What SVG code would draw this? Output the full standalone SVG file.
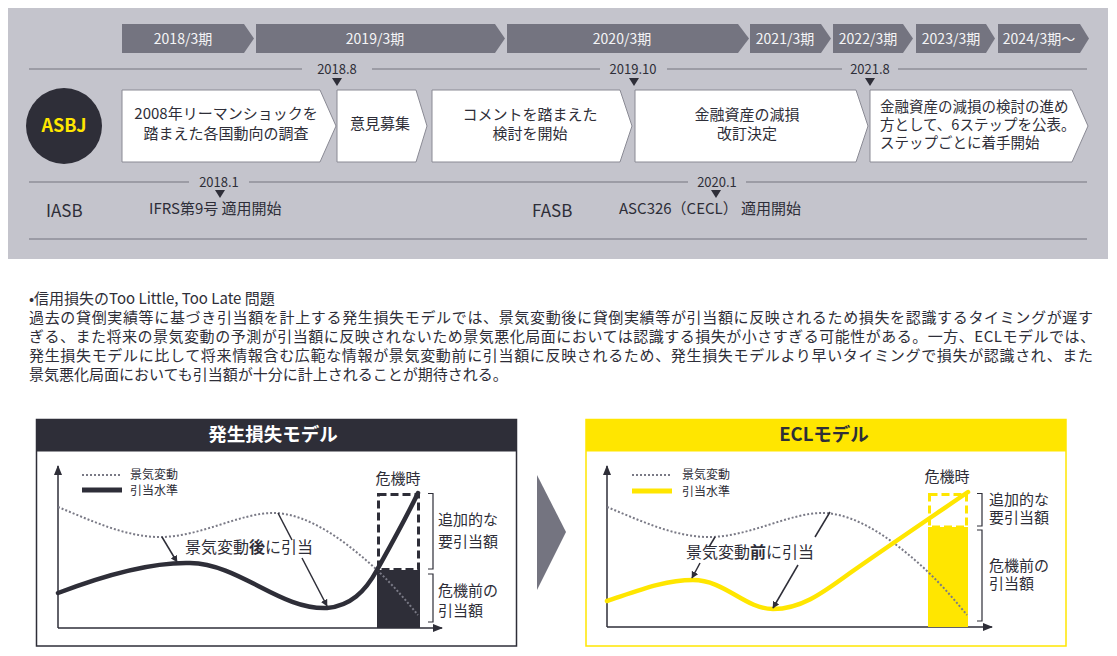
<svg xmlns="http://www.w3.org/2000/svg" width="1117" height="656" viewBox="0 0 1117 656">
<defs>
<style>
text{font-family:"Noto Sans CJK JP","Noto Sans",sans-serif;fill:#2e2e38}
.chev{fill:#747480}
.chevt{fill:#f4f4f6;font-size:14px;text-anchor:middle}
.tl{stroke:#8e8e98;stroke-width:1.5;fill:none}
.date{font-size:13px;text-anchor:middle}
.box{fill:#fff;stroke:#8a8a94;stroke-width:1}
.bt{font-size:15px;text-anchor:middle}
.bl{font-size:14.5px}
.org{font-size:17px}
.para{font-size:15px}
.axis{stroke:#2e2e38;stroke-width:1.5;fill:none}
.dot{stroke:#7a7a86;stroke-width:2;stroke-dasharray:2 2;fill:none}
.ann{stroke:#2e2e38;stroke-width:1.5;fill:none}
.lg{font-size:12px}
.lab{font-size:15px}
.brk{stroke:#2e2e38;stroke-width:1.2;fill:none}
</style>
<marker id="ah" viewBox="0 0 10 10" refX="9" refY="5" markerWidth="7" markerHeight="7" orient="auto" markerUnits="userSpaceOnUse">
<path d="M0,0 L10,5 L0,10 z" fill="#2e2e38"/>
</marker>
<marker id="axh" viewBox="0 0 10 10" refX="9" refY="5" markerWidth="10" markerHeight="10" orient="auto" markerUnits="userSpaceOnUse">
<path d="M0,1 L10,5 L0,9 z" fill="#2e2e38"/>
</marker>
<path id="dotcurve" d="M58,507 C90,520 125,537 160,537 C200,537 240,513 273,513 C310,513 350,545 377,570 C395,587 408,603 418,615"/>
</defs>

<g id="timeline-panel">
<rect x="8" y="8" width="1100" height="251" fill="#c4c4cc"/>
</g>

<g id="periods">
<polygon class="chev" points="122,24 244,24 254,38.5 244,53 122,53"/>
<text class="chevt" x="183" y="43.5">2018/3期</text>
<polygon class="chev" points="256,24 495,24 505,38.5 495,53 256,53"/>
<text class="chevt" x="375" y="43.5">2019/3期</text>
<polygon class="chev" points="507,24 738,24 749,38.5 738,53 507,53"/>
<text class="chevt" x="622" y="43.5">2020/3期</text>
<polygon class="chev" points="750,24 821,24 831,38.5 821,53 750,53"/>
<text class="chevt" x="785" y="43.5">2021/3期</text>
<polygon class="chev" points="833,24 903,24 913,38.5 903,53 833,53"/>
<text class="chevt" x="868" y="43.5">2022/3期</text>
<polygon class="chev" points="916,24 986,24 995,38.5 986,53 916,53"/>
<text class="chevt" x="951" y="43.5">2023/3期</text>
<polygon class="chev" points="998,24 1080,24 1089,38.5 1080,53 998,53"/>
<text class="chevt" x="1039" y="43.5">2024/3期～</text>
</g>

<g id="timeline-lines">
<path class="tl" d="M29,69 H302 M372,69 H600 M667,69 H842 M898,69 H1087"/>
<path class="tl" d="M29,182 H189 M249,182 H688 M746,182 H1087"/>
<path class="tl" d="M29,239 H1087"/>
</g>

<g id="dates">
<text class="date" x="337" y="73.5">2018.8</text>
<polygon points="332,78 342,78 337,86" fill="#2e2e38"/>
<text class="date" x="633" y="73.5">2019.10</text>
<polygon points="629,78 639,78 634,86" fill="#2e2e38"/>
<text class="date" x="870" y="73.5">2021.8</text>
<polygon points="865,78 875,78 870,86" fill="#2e2e38"/>
<text class="date" x="219" y="186.5">2018.1</text>
<polygon points="215,190 225,190 220,198" fill="#2e2e38"/>
<text class="date" x="717" y="186.5">2020.1</text>
<polygon points="711,190 721,190 716,198" fill="#2e2e38"/>
</g>

<g id="asbj">
<circle cx="64" cy="126" r="38" fill="#2e2e38"/>
<text x="64" y="132" font-size="18" font-weight="bold" text-anchor="middle" style="fill:#ffe600">ASBJ</text>
</g>

<g id="step1">
<polygon class="box" points="122,90 320,90 336,126 320,162 122,162"/>
<text class="bt"><tspan x="226" y="119">2008年リーマンショックを</tspan><tspan x="226" y="139">踏まえた各国動向の調査</tspan></text>
</g>
<g id="step2">
<polygon class="box" points="337,90 416,90 427,126 416,162 337,162"/>
<text class="bt" x="380" y="129">意見募集</text>
</g>
<g id="step3">
<polygon class="box" points="432,90 620,90 632,126 620,162 432,162"/>
<text class="bt"><tspan x="530" y="120">コメントを踏まえた</tspan><tspan x="530" y="138.5">検討を開始</tspan></text>
</g>
<g id="step4">
<polygon class="box" points="635,90 856,90 868,126 856,162 635,162"/>
<text class="bt"><tspan x="747" y="120">金融資産の減損</tspan><tspan x="747" y="138.5">改訂決定</tspan></text>
</g>
<g id="step5">
<polygon class="box" points="870,90 1072,90 1088,126 1072,162 870,162"/>
<text class="bl"><tspan x="880" y="112">金融資産の減損の検討の進め</tspan><tspan x="880" y="130">方として、6ステップを公表。</tspan><tspan x="880" y="148">ステップごとに着手開始</tspan></text>
</g>

<g id="iasb">
<text class="org" x="46" y="217">IASB</text>
<text class="lab" x="149" y="214" font-size="14.5">IFRS第9号 適用開始</text>
</g>
<g id="fasb">
<text class="org" x="532" y="217">FASB</text>
<text class="lab" x="619" y="214" font-size="14.5">ASC326（CECL） 適用開始</text>
</g>

<g id="paragraph">
<text class="para" x="29" y="304">•信用損失のToo Little, Too Late 問題</text>
<text class="para" x="29" y="323" textLength="1064" lengthAdjust="spacing">過去の貸倒実績等に基づき引当額を計上する発生損失モデルでは、景気変動後に貸倒実績等が引当額に反映されるため損失を認識するタイミングが遅す</text>
<text class="para" x="29" y="342" textLength="1066" lengthAdjust="spacing">ぎる、また将来の景気変動の予測が引当額に反映されないため景気悪化局面においては認識する損失が小さすぎる可能性がある。一方、ECLモデルでは、</text>
<text class="para" x="29" y="361" textLength="1064" lengthAdjust="spacing">発生損失モデルに比して将来情報含む広範な情報が景気変動前に引当額に反映されるため、発生損失モデルより早いタイミングで損失が認識され、また</text>
<text class="para" x="29" y="380">景気悪化局面においても引当額が十分に計上されることが期待される。</text>
</g>

<g id="incurred-loss-model">
<rect x="36.5" y="419.5" width="480" height="226.5" fill="#fff" stroke="#2e2e38" stroke-width="1.5"/>
<rect x="36.5" y="419.5" width="480" height="32" fill="#2e2e38"/>
<text x="273" y="441" font-size="18.5" font-weight="bold" text-anchor="middle" style="fill:#fff">発生損失モデル</text>
<path class="axis" d="M58,628 V466" marker-end="url(#axh)"/>
<path class="axis" d="M58,628 H442" marker-end="url(#axh)"/>
<path class="dot" d="M82,475 H122"/>
<path d="M82,490 H122" stroke="#2e2e38" stroke-width="5"/>
<text class="lg"><tspan x="130" y="479">景気変動</tspan><tspan x="130" y="495">引当水準</tspan></text>
<rect x="377" y="570" width="43" height="58" fill="#2e2e38"/>
<rect x="378.5" y="494.5" width="40" height="75" fill="none" stroke="#2e2e38" stroke-width="3" stroke-dasharray="8 4"/>
<use href="#dotcurve" class="dot"/>
<path d="M58,593 C105,575 150,562 190,563 C240,564 280,610 327,608 C350,606 365,592 377,570 C392,543 405,520 418,493" stroke="#2e2e38" stroke-width="4.5" fill="none" stroke-linecap="round"/>
<text class="lab" x="398" y="484" text-anchor="middle">危機時</text>
<path class="brk" d="M428,493.5 H433 V569 H428 M428,574 H433 V622 H428"/>
<text class="lab"><tspan x="438" y="525">追加的な</tspan><tspan x="438" y="547">要引当額</tspan></text>
<text class="lab"><tspan x="438" y="596">危機前の</tspan><tspan x="438" y="616">引当額</tspan></text>
<text x="185" y="553" font-size="16">景気変動<tspan font-weight="bold">後</tspan>に引当</text>
</g>

<g id="transition-arrow">
<polygon points="537,475 566,532 537,590" fill="#747480"/>
</g>

<g id="ecl-model">
<rect x="586" y="419.5" width="480" height="226.5" fill="#fff" stroke="#ffe600" stroke-width="1.5"/>
<rect x="586" y="419.5" width="480" height="32" fill="#ffe600"/>
<text x="824" y="441" font-size="18.5" font-weight="bold" text-anchor="middle">ECLモデル</text>
<path class="axis" d="M607,627 V466" marker-end="url(#axh)"/>
<path class="axis" d="M607,627 H992" marker-end="url(#axh)"/>
<path class="dot" d="M632,475 H672"/>
<path d="M632,491 H672" stroke="#ffe600" stroke-width="5"/>
<text class="lg"><tspan x="682" y="479">景気変動</tspan><tspan x="682" y="496">引当水準</tspan></text>
<rect x="928" y="527" width="40" height="100" fill="#ffe600"/>
<rect x="929.5" y="494.5" width="37" height="32.5" fill="none" stroke="#ffe600" stroke-width="3" stroke-dasharray="8 4"/>
<use href="#dotcurve" class="dot" transform="translate(549,0)"/>
<path d="M607,601 C640,590 665,580 693,580 C725,580 745,609 773,609 C800,609 820,595 850,573 C890,545 930,518 968,492" stroke="#ffe600" stroke-width="4.5" fill="none" stroke-linecap="round"/>
<text class="lab" x="947" y="482" text-anchor="middle">危機時</text>
<path class="brk" d="M977,493.5 H982 V526 H977 M977,530 H982 V621 H977"/>
<text class="lab"><tspan x="989" y="505">追加的な</tspan><tspan x="989" y="523">要引当額</tspan></text>
<text class="lab"><tspan x="989" y="571">危機前の</tspan><tspan x="989" y="589">引当額</tspan></text>
<text x="686" y="558" font-size="16">景気変動<tspan font-weight="bold">前</tspan>に引当</text>
</g>

<g id="connectors">
<path class="ann" d="M162,537 L177,562" marker-end="url(#ah)"/>
<path class="ann" d="M278,513 L292,540"/>
<path class="ann" d="M302,558 L327,606" marker-end="url(#ah)"/>
<path class="ann" d="M715,537 L709,547"/>
<path class="ann" d="M700,563 L692,578" marker-end="url(#ah)"/>
<path class="ann" d="M830,512 L815,537"/>
<path class="ann" d="M798,565 L773,608" marker-end="url(#ah)"/>
</g>
</svg>
